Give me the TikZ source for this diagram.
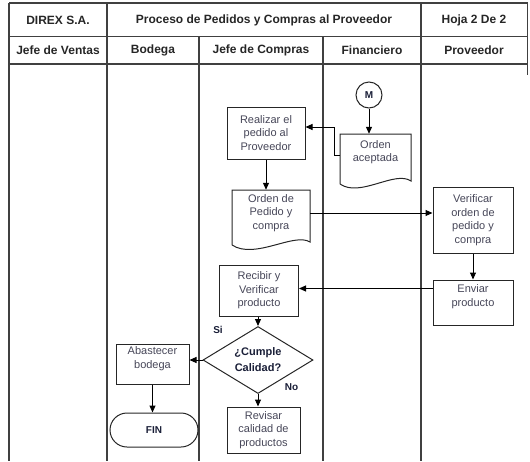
\documentclass[tikz,border=0pt]{standalone}
\usepackage{fontspec}
\setmainfont{Liberation Sans}
\usetikzlibrary{arrows.meta,shapes.geometric,calc}
\definecolor{boxtext}{RGB}{70,70,88}
\definecolor{dtext}{RGB}{25,30,55}
\begin{document}
\begin{tikzpicture}[x=1pt,y=-1pt,
 grid/.style={draw=black!75,line width=1.3pt},
 hdr/.style={font=\fontsize{12}{14}\selectfont\bfseries,text=black!85,inner sep=0pt},
 box/.style={draw=black!85,line width=1pt,rectangle,inner sep=0pt,align=center,text=boxtext,font=\fontsize{11}{13.5}\selectfont},
 txt/.style={inner sep=0pt,align=center,text=boxtext,font=\fontsize{11}{13.5}\selectfont},
 outline/.style={draw=black!85,line width=1pt},
 arr/.style={line width=1pt,-{Triangle[length=7pt,width=6pt]}},
 lbl/.style={font=\fontsize{10}{12}\selectfont\bfseries,text=dtext,inner sep=0pt},
]
\useasboundingbox (0,0) rectangle (530,461);
% table grid
\draw[grid] (9,3) -- (527.5,3);
\draw[grid] (9,36.5) -- (527.5,36.5);
\draw[grid] (9,64) -- (527.5,64);
\draw[grid] (9,3) -- (9,461);
\draw[grid] (107,3) -- (107,461);
\draw[grid] (199,36.5) -- (199,461);
\draw[grid] (323,36.5) -- (323,461);
\draw[grid] (421,3) -- (421,461);
\draw[grid] (527.5,3) -- (527.5,75);
% headers
\node[hdr] (h1) at (58,20) {DIREX S.A.};
\node[hdr] (h2) at (264,20) {Proceso de Pedidos y Compras al Proveedor};
\node[hdr] (h3) at (474,20) {Hoja 2 De 2};
\node[hdr] (l1) at (58,50.5) {Jefe de Ventas};
\node[hdr] (l2) at (153,50.5) {Bodega};
\node[hdr] (l3) at (261,50.5) {Jefe de Compras};
\node[hdr] (l4) at (372,50.5) {Financiero};
\node[hdr] (l5) at (474,50.5) {Proveedor};
% connector circle
\node[circle,outline,minimum size=26pt,inner sep=0pt,font=\fontsize{10}{12}\selectfont\bfseries,text=dtext] (m) at (369,95) {M};
% document: Orden aceptada
\draw[outline] (340,184) -- (340,134) -- (411,134) -- (411,181) .. controls (395,170) and (360,198) .. (340,184);
\node[txt,minimum width=71pt,minimum height=36pt] (oa) at (375.5,152) {Orden\\aceptada};
% Realizar
\node[box,minimum width=78pt,minimum height=52pt] (realizar) at (266,133) {Realizar el\\pedido al\\Proveedor};
% document: Orden de Pedido
\draw[outline] (232,245) -- (232,190) -- (310,190) -- (310,242) .. controls (294,232) and (255,260) .. (232,245);
\node[txt,minimum width=78pt,minimum height=46pt] (op) at (271,213) {Orden de\\Pedido y\\compra};
% Proveedor lane
\node[box,minimum width=80pt,minimum height=66pt] (verif) at (473,220) {Verificar\\orden de\\pedido y\\compra};
\node[box,minimum width=80pt,minimum height=45pt] (enviar) at (473,302.5) {};
\node[txt] (envtxt) at (473,296.5) {Enviar\\producto};
% Recibir
\node[box,minimum width=79pt,minimum height=51pt] (recibir) at (259,290.5) {Recibir y\\Verificar\\producto};
% decision
\node[diamond,outline,minimum width=110pt,minimum height=67pt,inner sep=0pt,shape aspect=1.64,align=center,font=\fontsize{11}{16}\selectfont\bfseries,text=dtext] (dia) at (258,360) {¿Cumple\\Calidad?};
\node[lbl] (si) at (218,330) {Si};
\node[lbl] (no) at (291.5,387) {No};
% Abastecer
\node[box,minimum width=73pt,minimum height=40pt] (abast) at (152.5,364) {};
\node[txt] (abtxt) at (152.5,358.5) {Abastecer\\bodega};
% FIN
\node[outline,rounded corners=17pt,minimum width=88pt,minimum height=34pt,font=\fontsize{10}{12}\selectfont\bfseries,text=dtext] (fin) at (154,430) {FIN};
% Revisar
\node[box,minimum width=73pt,minimum height=46pt] (revisar) at (263.5,430) {Revisar\\calidad de\\productos};
% connectors
\draw[arr] (m.south) -- (m.south |- oa.north);
\draw[arr] ([yshift=-3pt]oa.west) -- ++(-5,0) |- ([yshift=6pt]realizar.east);
\draw[arr] (realizar.south) -- (realizar.south |- op.north);
\draw[arr] (op.east) -- (op.east -| verif.west);
\draw[arr] (verif.south) -- (enviar.north);
\coordinate (ew) at ([yshift=14pt]enviar.west);
\draw[arr] (ew) -- (ew -| recibir.east);
\draw[arr] (dia.north |- recibir.south) -- (dia.north);
\draw[arr] (dia.west) -- (dia.west -| abast.east);
\draw[arr] (abast.south) -- (abast.south |- fin.north);
\draw[arr] (dia.south) -- (dia.south |- revisar.north);
\end{tikzpicture}
\end{document}
